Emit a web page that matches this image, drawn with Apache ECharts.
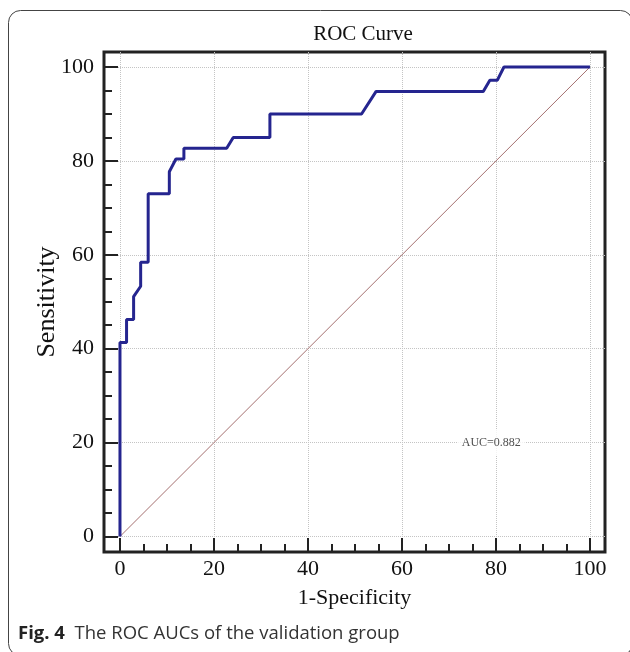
<!DOCTYPE html>
<html>
<head>
<meta charset="utf-8">
<script src="https://cdn.jsdelivr.net/npm/echarts@6/dist/echarts.min.js"></script>
<style>
  html, body { margin: 0; padding: 0; background: #fff; }
  #chart { width: 630px; height: 652px; }
</style>
</head>
<body>
<div id="chart"></div>
<script>
// ROC curve points (1-specificity, sensitivity in %)
const fpr = [0, 0, 1.4, 1.4, 2.9, 2.9, 4.4, 4.4, 6.0, 6.0, 10.5, 10.5, 11.9, 13.6, 13.6,
             22.7, 24.1, 31.9, 31.9, 51.4, 54.5, 77.3, 78.7, 80.3, 81.7, 100];
const tpr = [0, 41.3, 41.3, 46.2, 46.2, 51.1, 53.3, 58.4, 58.4, 73.0, 73.0, 77.7, 80.4, 80.4, 82.7,
             82.7, 85.0, 85.0, 90.0, 90.0, 94.8, 94.8, 97.2, 97.2, 100, 100];
const chanceX = [0, 100];
const chanceY = [0, 100];
const majorTicks = [0, 20, 40, 60, 80, 100];
const minorTicks = [5, 10, 15, 25, 30, 35, 45, 50, 55, 65, 70, 75, 85, 90, 95];
const aucText = 'AUC=0.882';
const aucPos = [79, 20];

const serif = '"Liberation Serif", "DejaVu Serif", serif';
const sans = '"Open Sans", "Noto Sans", sans-serif';

let chart = echarts.init(document.getElementById('chart'));

function xAx(ticks, len, main) {
    return {
        type: 'value', min: -3.4, max: 103.2, position: 'bottom',
        axisLine: { show: false, onZero: false },
        axisTick: { show: true, inside: true, length: len, customValues: ticks,
                    lineStyle: { color: '#222', width: 2 } },
        axisLabel: main ? { customValues: ticks, margin: 6, fontFamily: serif, fontSize: 22, color: '#111' }
                        : { show: false },
        splitLine: main ? { show: true, lineStyle: { color: '#c4c4c4', width: 1, type: 'dotted' } }
                        : { show: false },
        name: main ? '1-Specificity' : '',
        nameLocation: 'middle',
        nameGap: 35,
        nameMoveOverlap: false,
        nameTextStyle: { fontFamily: serif, fontSize: 22, color: '#111' }
    };
}
function yAx(ticks, len, main) {
    return {
        type: 'value', min: -3.3, max: 103.2, position: 'left',
        axisLine: { show: false, onZero: false },
        axisTick: { show: true, inside: true, length: len, customValues: ticks,
                    lineStyle: { color: '#222', width: 2 } },
        axisLabel: main ? { customValues: ticks, margin: 10, fontFamily: serif, fontSize: 22, color: '#111' }
                        : { show: false },
        splitLine: main ? { show: true, lineStyle: { color: '#c4c4c4', width: 1, type: 'dotted' } }
                        : { show: false },
        name: main ? 'Sensitivity' : '',
        nameLocation: 'middle',
        nameGap: 44,
        nameMoveOverlap: false,
        nameTextStyle: { fontFamily: serif, fontSize: 26, color: '#111' }
    };
}

chart.setOption({
    backgroundColor: '#fff',
    animation: false,
    title: [
        {
            text: 'ROC Curve',
            left: 358, top: 19, textAlign: 'center',
            textStyle: { fontFamily: serif, fontSize: 21, fontWeight: 'normal', color: '#111' }
        },
        {
            text: '{b|Fig. 4}  The ROC AUCs of the validation group',
            left: 13, top: 619,
            textStyle: {
                fontFamily: sans, fontSize: 18.5, fontWeight: 'normal', color: '#333',
                rich: { b: { fontFamily: sans, fontSize: 18.5, fontWeight: 'bold', color: '#222' } }
            }
        }
    ],
    graphic: [{
        type: 'rect', silent: true,
        shape: { x: 8.5, y: 10.5, width: 624, height: 645, r: 12 },
        style: { fill: 'none', stroke: '#444', lineWidth: 1 }
    }],
    grid: {
        left: 104, right: 25, top: 52, bottom: 100,
        show: true, borderColor: '#222', borderWidth: 3
    },
    xAxis: [xAx(majorTicks, 14, true), xAx(minorTicks, 8, false)],
    yAxis: [yAx(majorTicks, 14, true), yAx(minorTicks, 8, false)],
    series: [
        {
            type: 'line',
            data: chanceX.map((x, i) => [x, chanceY[i]]),
            showSymbol: false, silent: true,
            lineStyle: { color: '#a57070', width: 1 },
            z: 2
        },
        {
            type: 'line',
            data: fpr.map((x, i) => [x, tpr[i]]),
            showSymbol: false, silent: true,
            lineStyle: { color: '#25258f', width: 3 },
            z: 3
        },
        {
            type: 'scatter',
            data: [aucPos],
            symbolSize: 0, silent: true,
            label: {
                show: true, position: 'inside', formatter: aucText,
                fontFamily: serif, fontSize: 12, color: '#222',
                backgroundColor: '#fff', padding: [7, 4]
            },
            z: 4
        }
    ]
});
</script>
</body>
</html>
